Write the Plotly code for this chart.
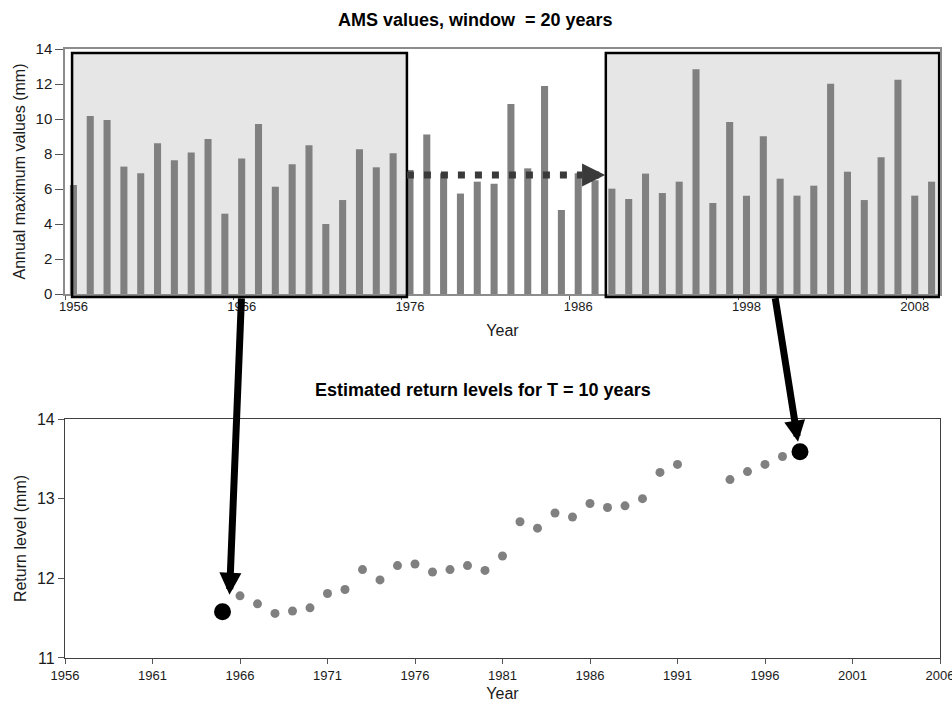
import plotly.graph_objects as go

# Annual maximum series (mm); no record for 1992-1993
ams_years = list(range(1956, 1992)) + list(range(1994, 2010))
ams_values = [6.23, 10.17, 9.94, 7.28, 6.90, 8.61, 7.64, 8.08, 8.86, 4.59,
              7.75, 9.71, 6.13, 7.41, 8.50, 4.00, 5.37, 8.27, 7.24, 8.04,
              7.09, 9.12, 6.90, 5.74, 6.42, 6.30, 10.86, 7.18, 11.89, 4.80,
              6.90, 6.50, 6.02, 5.43, 6.88, 5.77,
              6.42, 12.84, 5.20, 9.83, 5.62, 9.01, 6.59, 5.62, 6.19, 12.02,
              6.99, 5.37, 7.81, 12.25, 5.62, 6.42]
ams_ticks = ["1956", "1966", "1976", "1986", "1998", "2008"]

# 10-year return levels from the moving 20-year window (mm)
rl_years = list(range(1965, 1992)) + list(range(1994, 1999))
rl_values = [11.58, 11.78, 11.68, 11.56, 11.59, 11.63, 11.81, 11.86, 12.11,
             11.98, 12.16, 12.18, 12.08, 12.11, 12.16, 12.10, 12.28, 12.71,
             12.63, 12.82, 12.77, 12.94, 12.89, 12.91, 13.00, 13.33, 13.43,
             13.24, 13.34, 13.43, 13.53, 13.59]

FONT = "Liberation Sans, Arial, sans-serif"
GREY = "#808080"
TXT = "#1a1a1a"

fig = go.Figure()

fig.add_trace(go.Bar(
    x=[str(y) for y in ams_years], y=ams_values,
    marker=dict(color=GREY, line=dict(width=0)),
    xaxis="x", yaxis="y", showlegend=False,
))

fig.add_trace(go.Scatter(
    x=rl_years, y=rl_values, mode="markers",
    marker=dict(color=GREY, size=9),
    xaxis="x2", yaxis="y2", showlegend=False,
))
# first and last windows highlighted
fig.add_trace(go.Scatter(
    x=[rl_years[0], rl_years[-1]], y=[rl_values[0], rl_values[-1]],
    mode="markers", marker=dict(color="black", size=17),
    xaxis="x2", yaxis="y2", showlegend=False,
))

# shaded 20-year windows on the AMS panel
n = len(ams_years)
windows = [(-0.08, 19.82), (31.64, n - 0.55)]
box_y0, box_y1 = 0.5928, 0.9934
for x0, x1 in windows:
    fig.add_shape(type="rect", xref="x", yref="paper", x0=x0, x1=x1,
                  y0=box_y0, y1=box_y1, fillcolor="#e6e6e6",
                  line=dict(width=0), layer="below")
    fig.add_shape(type="rect", xref="x", yref="paper", x0=x0, x1=x1,
                  y0=box_y0, y1=box_y1, fillcolor="rgba(0,0,0,0)",
                  line=dict(color="black", width=2.5), layer="above")

# dotted arrow: the window moves forward in time
slide_y = 6.8
fig.add_shape(type="line", xref="x", yref="y", x0=19.82, x1=30.25,
              y0=slide_y, y1=slide_y,
              line=dict(color="#3a3a3a", width=7, dash="7px,10px"))
fig.add_annotation(xref="x", yref="y", x=31.6, y=slide_y, ax=-23, ay=0,
                   text="", showarrow=True, arrowhead=2, arrowwidth=7,
                   arrowsize=0.66, arrowcolor="#3a3a3a", standoff=0)

# arrows linking each window to its estimate
fig.add_annotation(xref="x2", yref="y2", x=rl_years[0], y=rl_values[0],
                   xshift=7, yshift=17, ax=12, ay=-298, text="",
                   showarrow=True, arrowhead=2, arrowwidth=7, arrowsize=0.63,
                   arrowcolor="black", standoff=0)
fig.add_annotation(xref="x2", yref="y2", x=rl_years[-1], y=rl_values[-1],
                   xshift=-2, yshift=10, ax=-23, ay=-145, text="",
                   showarrow=True, arrowhead=2, arrowwidth=7, arrowsize=0.6,
                   arrowcolor="black", standoff=0)

# panel titles
fig.add_annotation(xref="paper", yref="paper", x=0.4686, y=1.0476,
                   text="<b>AMS values, window  = 20 years</b>",
                   showarrow=False, font=dict(size=18, color="black"),
                   xanchor="center", yanchor="middle")
fig.add_annotation(xref="paper", yref="paper", x=0.4777, y=0.440,
                   text="<b>Estimated return levels for T = 10 years</b>",
                   showarrow=False, font=dict(size=18, color="black"),
                   xanchor="center", yanchor="middle")

fig.update_layout(
    width=952, height=705,
    margin=dict(l=65, r=12, t=49, b=47, autoexpand=False),
    paper_bgcolor="white", plot_bgcolor="white",
    font=dict(family=FONT, color=TXT),
    bargap=0.58,
    xaxis=dict(
        type="category", domain=[0, 1], anchor="y",
        range=[-0.5, n - 0.5], automargin=False,
        tickmode="array", tickvals=ams_ticks, ticktext=ams_ticks,
        tickangle=0,
        tickson="boundaries", ticks="outside", ticklen=4,
        tickcolor="#555", tickfont=dict(size=13, color=TXT),
        showline=True, linecolor="#8c8c8c", linewidth=1.5, mirror=True,
        showgrid=False, zeroline=False,
        title=dict(text="Year", font=dict(size=16, color=TXT), standoff=11),
    ),
    yaxis=dict(
        domain=[0.5977, 1], anchor="x", range=[0, 14], dtick=2,
        automargin=False,
        ticks="outside", ticklen=8, tickcolor="#555",
        tickfont=dict(size=15, color=TXT),
        showline=True, linecolor="#8c8c8c", linewidth=1.5, mirror=True,
        showgrid=False, zeroline=False,
        title=dict(text="Annual maximum values (mm)",
                   font=dict(size=16, color=TXT), standoff=6),
    ),
    xaxis2=dict(
        domain=[0, 1], anchor="y2", range=[1956, 2006], dtick=5,
        tick0=1956, automargin=False, ticklabeloverflow="allow",
        ticks="outside", ticklen=5, tickcolor="#555",
        tickfont=dict(size=13, color=TXT),
        showline=True, linecolor="#404040", linewidth=1.2, mirror=True,
        showgrid=False, zeroline=False,
        title=dict(text="Year", font=dict(size=16, color=TXT), standoff=6),
    ),
    yaxis2=dict(
        domain=[0, 0.3924], anchor="x2", range=[11, 14], dtick=1,
        automargin=False,
        ticks="outside", ticklen=6, tickcolor="#555",
        tickfont=dict(size=16, color=TXT),
        showline=True, linecolor="#404040", linewidth=1.2, mirror=True,
        showgrid=False, zeroline=False,
        title=dict(text="Return level (mm)",
                   font=dict(size=16, color=TXT), standoff=6),
    ),
)

fig.write_html("out.html")
